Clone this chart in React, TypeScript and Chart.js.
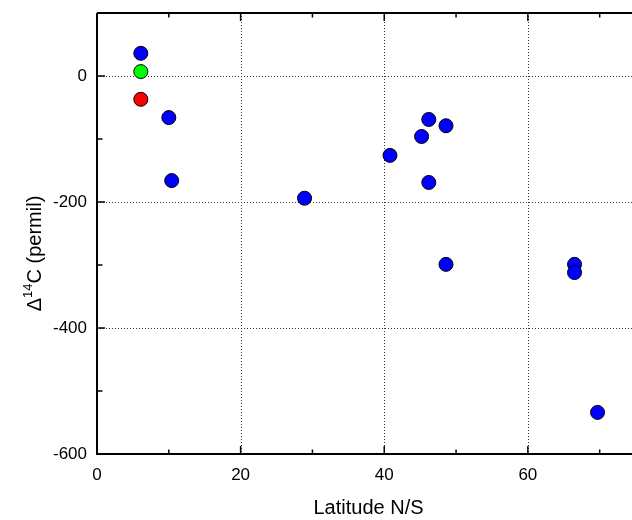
import React, { useEffect, useRef } from 'react';
import { Chart, registerables } from 'chart.js';

Chart.register(...registerables);

// ---- data ----
const blueLatitude = [6.1, 10.0, 10.4, 28.9, 40.8, 45.2, 46.2, 48.6, 46.2, 48.6, 66.5, 66.5, 69.7];
const blueDelta14C = [36, -66, -166, -194, -126, -96, -69, -79, -169, -299, -299, -312, -534];
const greenLatitude = [6.1];
const greenDelta14C = [7];
const redLatitude = [6.1];
const redDelta14C = [-37];

const xMajorTicks = [0, 20, 40, 60];
const xMinorTicks = [10, 30, 50, 70];
const yMajorTicks = [-600, -400, -200, 0];
const yMinorTicks = [-500, -300, -100];

const xTitle = 'Latitude N/S';
const yTitleParts = ['\u0394', '14', 'C (permil)'];

const FONT = '"Liberation Sans", Arial, Helvetica, sans-serif';

const toPoints = (xs: number[], ys: number[]) => xs.map((x, i) => ({ x, y: ys[i] }));

const zeroPadding = (s: any) => {
  s.paddingLeft = 0;
  s.paddingRight = 0;
  s.paddingTop = 0;
  s.paddingBottom = 0;
};

const decorPlugin = {
  id: 'decor',
  beforeDatasetsDraw(chart: any) {
    const { ctx, chartArea: a, scales } = chart;
    const x = scales.x;
    const y = scales.y;
    ctx.save();
    ctx.strokeStyle = '#333';
    ctx.lineWidth = 1;
    ctx.setLineDash([1, 2]);
    for (const v of xMajorTicks) {
      if (v === 0) continue;
      const px = Math.round(x.getPixelForValue(v)) + 0.5;
      ctx.beginPath();
      ctx.moveTo(px, a.top);
      ctx.lineTo(px, a.bottom);
      ctx.stroke();
    }
    for (const v of yMajorTicks) {
      if (v === -600) continue;
      const py = Math.round(y.getPixelForValue(v)) + 0.5;
      ctx.beginPath();
      ctx.moveTo(a.left, py);
      ctx.lineTo(a.right, py);
      ctx.stroke();
    }
    ctx.restore();
  },
  afterDatasetsDraw(chart: any) {
    const { ctx, chartArea: a, scales } = chart;
    const x = scales.x;
    const y = scales.y;
    ctx.save();
    ctx.strokeStyle = '#000';
    ctx.lineWidth = 2;
    // axis lines
    ctx.beginPath();
    ctx.moveTo(a.left, a.top);
    ctx.lineTo(a.right, a.top);
    ctx.moveTo(a.left, a.top);
    ctx.lineTo(a.left, a.bottom);
    ctx.lineTo(a.right, a.bottom);
    ctx.stroke();
    // ticks
    ctx.lineWidth = 1.5;
    const major = 8;
    const minor = 4.5;
    const drawX = (v: number, len: number) => {
      const px = x.getPixelForValue(v);
      ctx.beginPath();
      ctx.moveTo(px, a.bottom);
      ctx.lineTo(px, a.bottom - len);
      ctx.moveTo(px, a.top);
      ctx.lineTo(px, a.top + len);
      ctx.stroke();
    };
    xMajorTicks.forEach((v) => drawX(v, major));
    xMinorTicks.forEach((v) => drawX(v, minor));
    const drawY = (v: number, len: number) => {
      const py = y.getPixelForValue(v);
      ctx.beginPath();
      ctx.moveTo(a.left, py);
      ctx.lineTo(a.left + len, py);
      ctx.stroke();
    };
    yMajorTicks.forEach((v) => drawY(v, major));
    yMinorTicks.forEach((v) => drawY(v, minor + 1));

    // titles
    ctx.fillStyle = '#000';
    ctx.font = '20px ' + FONT;
    ctx.textAlign = 'center';
    ctx.textBaseline = 'alphabetic';
    ctx.fillText(xTitle, (a.left + a.right) / 2 + 4, a.bottom + 60);

    // y title with superscript
    const big = '20px ' + FONT;
    const small = '13px ' + FONT;
    ctx.font = big;
    const w0 = ctx.measureText(yTitleParts[0]).width;
    const w2 = ctx.measureText(yTitleParts[2]).width;
    ctx.font = small;
    const w1 = ctx.measureText(yTitleParts[1]).width;
    const total = w0 + w1 + w2;
    ctx.translate(41, (a.top + a.bottom) / 2 + 20);
    ctx.rotate(-Math.PI / 2);
    ctx.textAlign = 'left';
    let cx = -total / 2;
    ctx.font = big;
    ctx.fillText(yTitleParts[0], cx, 0);
    cx += w0;
    ctx.font = small;
    ctx.fillText(yTitleParts[1], cx, -9);
    cx += w1;
    ctx.font = big;
    ctx.fillText(yTitleParts[2], cx, 0);
    ctx.restore();
  },
};

export default function App() {
  const canvasRef = useRef<HTMLCanvasElement | null>(null);

  useEffect(() => {
    if (!canvasRef.current) return;
    const pointStyle = (color: string) => ({
      backgroundColor: color,
      borderColor: '#000',
      borderWidth: 1,
      pointRadius: 7,
      pointHoverRadius: 7,
      showLine: false,
    });
    const chart = new Chart(canvasRef.current, {
      type: 'scatter',
      data: {
        datasets: [
          { label: 'blue', data: toPoints(blueLatitude, blueDelta14C), ...pointStyle('#0000ff') },
          { label: 'green', data: toPoints(greenLatitude, greenDelta14C), ...pointStyle('#00ff00') },
          { label: 'red', data: toPoints(redLatitude, redDelta14C), ...pointStyle('#ff0000') },
        ],
      },
      options: {
        animation: false,
        responsive: false,
        events: [],
        layout: { autoPadding: false, padding: { top: 13, right: 0, bottom: 0, left: 0 } },
        plugins: {
          legend: { display: false },
          tooltip: { enabled: false },
        },
        scales: {
          x: {
            type: 'linear',
            position: 'bottom',
            min: 0,
            max: 74.5,
            grid: { display: false, drawTicks: false },
            border: { display: false },
            ticks: {
              stepSize: 10,
              autoSkip: false,
              maxRotation: 0,
              padding: 11,
              color: '#000',
              font: { size: 17, family: FONT },
              callback: (v: any) => (Number(v) % 20 === 0 ? String(v) : ''),
            },
            afterFit: (s: any) => {
              s.height = 66;
              zeroPadding(s);
            },
          },
          y: {
            type: 'linear',
            position: 'left',
            min: -600,
            max: 100,
            grid: { display: false, drawTicks: false },
            border: { display: false },
            ticks: {
              stepSize: 100,
              autoSkip: false,
              padding: 10,
              color: '#000',
              font: { size: 17, family: FONT },
              callback: (v: any) => (Number(v) % 200 === 0 ? String(v) : ''),
            },
            afterFit: (s: any) => {
              s.width = 97;
              zeroPadding(s);
            },
          },
        },
      },
      plugins: [decorPlugin],
    });
    return () => chart.destroy();
  }, []);

  return (
    <div style={{ position: 'fixed', left: 0, top: 0, width: 632, height: 520, background: '#fff' }}>
      <canvas ref={canvasRef} width={632} height={520} style={{ display: 'block' }} />
    </div>
  );
}
